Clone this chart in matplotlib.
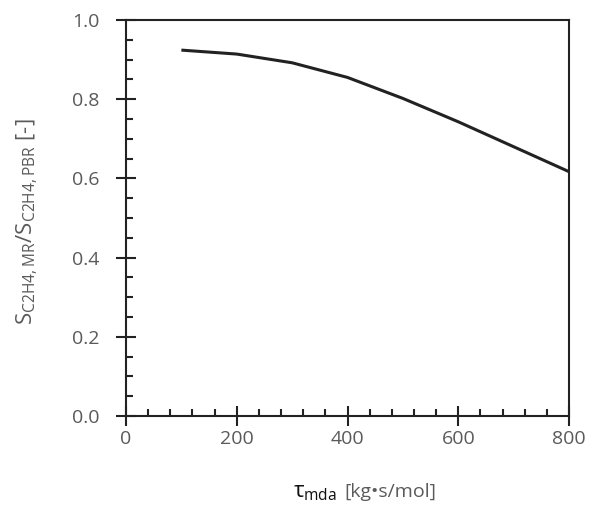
import matplotlib.pyplot as plt
from matplotlib.ticker import MultipleLocator

# residence time [kg s/mol] and selectivity ratio MR/PBR
tau = [100, 200, 300, 400, 500, 600, 700, 800]
s_ratio = [0.924, 0.914, 0.892, 0.855, 0.802, 0.743, 0.680, 0.617]

plt.rcParams['font.family'] = ['Open Sans', 'DejaVu Sans']
plt.rcParams['mathtext.fontset'] = 'custom'
plt.rcParams['mathtext.rm'] = 'Open Sans'
plt.rcParams['mathtext.it'] = 'Open Sans'

grey = '#5a5a5a'

fig = plt.figure(figsize=(5.89, 5.08), dpi=100)
ax = fig.add_axes([0.2139, 0.1811, 0.7522, 0.7795])

ax.plot(tau, s_ratio, color='#222222', lw=2.2, solid_capstyle='butt')

ax.set_xlim(0, 800)
ax.set_ylim(0, 1.0)
ax.xaxis.set_major_locator(MultipleLocator(200))
ax.xaxis.set_minor_locator(MultipleLocator(40))
ax.yaxis.set_major_locator(MultipleLocator(0.2))
ax.yaxis.set_minor_locator(MultipleLocator(0.05))
ax.yaxis.set_major_formatter(plt.FormatStrFormatter('%.1f'))

for s in ax.spines.values():
    s.set_linewidth(1.5)
    s.set_color('#222222')

ax.tick_params(which='major', direction='inout', length=14, width=1.5,
               color='#222222', labelsize=14, labelcolor=grey)
ax.tick_params(which='minor', direction='in', length=5, width=1.5,
               color='#222222')
ax.tick_params(axis='y', which='major', pad=12)
ax.tick_params(axis='x', which='major', pad=3)

ax.set_ylabel(r'S$_{\mathrm{C2H4,MR}}$/S$_{\mathrm{C2H4,PBR}}$ [-]',
              fontsize=16, color=grey)
ax.yaxis.set_label_coords(-0.194, 0.49)

# x label: black tau symbol plus grey unit
ax.text(0.377, -0.2045, r'$\tau_{\mathrm{mda}}$', transform=ax.transAxes,
        fontsize=16, color='#111111', ha='left', va='baseline')
ax.text(0.494, -0.2045, '[kg•s/mol]', transform=ax.transAxes,
        fontsize=14, color=grey, ha='left', va='baseline')

fig.savefig('out.png', dpi=100)
